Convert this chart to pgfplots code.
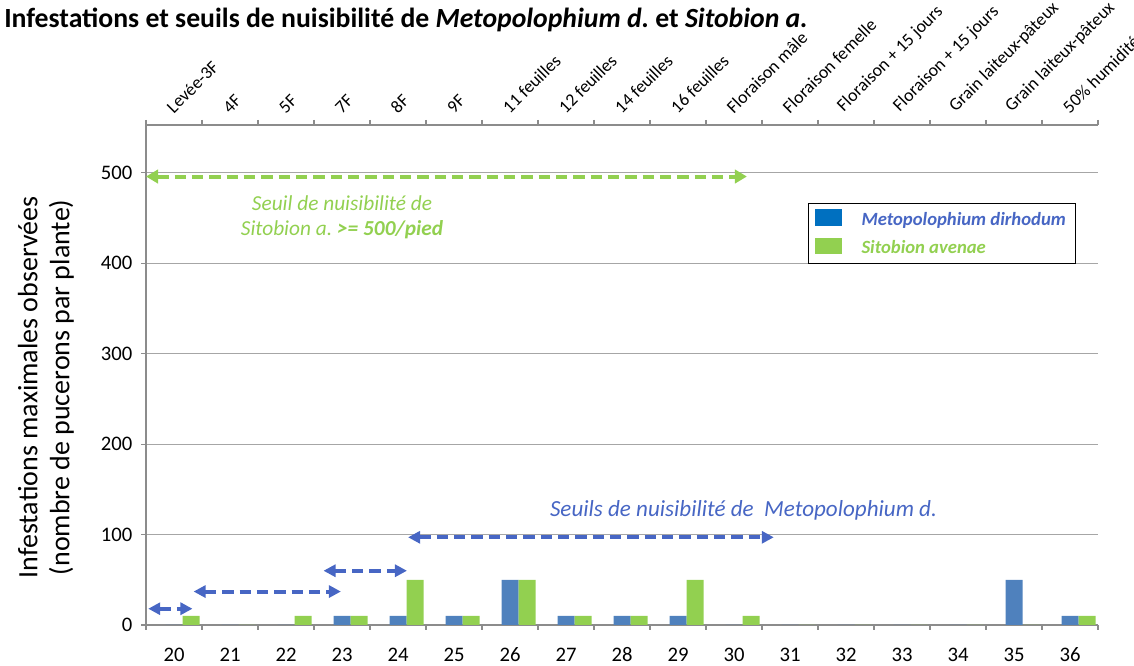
\documentclass[border=0pt]{standalone}
\usepackage{pgfplots}
\pgfplotsset{compat=1.18}
\usepackage{fontspec}
\setmainfont{Carlito}
\usetikzlibrary{arrows.meta}

\definecolor{barblue}{HTML}{4F81BD}
\definecolor{bargreen}{HTML}{92D050}
\definecolor{legblue}{HTML}{0070C0}
\definecolor{arrblue}{HTML}{4766C4}
\definecolor{axgray}{HTML}{8C8C8C}
\definecolor{gridgray}{HTML}{A6A6A6}

\begin{document}
\frenchspacing
\begin{tikzpicture}
\path[use as bounding box] (0,0) rectangle (850.5pt,499.5pt);

% titre
\node[anchor=west, inner sep=0pt, font=\fontsize{20.8}{24}\selectfont\bfseries] at (3pt,484.5pt)
  {Infestations et seuils de nuisibilité de \textit{Metopolophium d.} et \textit{Sitobion a.}};

% titre de l'axe y
\node[rotate=90, align=center, font=\fontsize{21}{24}\selectfont] at (34.5pt,209pt)
  {Infestations maximales observées\\(nombre de pucerons par plante)};

% axe du haut : stades
\begin{axis}[
    at={(109.5pt,30.75pt)}, anchor=south west,
    scale only axis, width=714pt, height=375pt,
    xmin=19.5, xmax=36.5, ymin=0, ymax=553,
    axis x line*=top, axis y line=none,
    axis line style={draw=axgray, line width=0.8pt, -},
    xtick={20,...,36},
    xticklabels={Levée-3F,4F,5F,7F,8F,9F,11 feuilles,12 feuilles,14 feuilles,16 feuilles,Floraison mâle,Floraison femelle,Floraison + 15 jours,Floraison + 15 jours,Grain laiteux-pâteux,Grain laiteux-pâteux,50\% humidité},
    major x tick style={draw=none},
    minor xtick={19.5,20.5,...,36.5},
    minor x tick style={draw=axgray, line width=0.8pt},
    tick align=outside, minor tick length=3.75pt,
    xticklabel shift=3.5pt,
    xticklabel style={rotate=45, anchor=south west, inner sep=0pt, font=\fontsize{13.4}{15}\selectfont},
]
\end{axis}

\begin{axis}[
    at={(109.5pt,30.75pt)}, anchor=south west,
    scale only axis, width=714pt, height=375pt,
    xmin=19.5, xmax=36.5, ymin=0, ymax=553,
    axis x line*=bottom, axis y line*=left,
    axis line style={draw=axgray, line width=0.8pt, -},
    ybar, bar width=12.75pt,
    xtick={20,...,36},
    major x tick style={draw=none},
    minor xtick={19.5,20.5,...,36.5},
    minor x tick style={draw=axgray, line width=0.8pt},
    ytick={0,100,...,500},
    major y tick style={draw=axgray, line width=0.8pt},
    tick align=outside, major tick length=3.75pt, minor tick length=3.75pt,
    ymajorgrids, grid style={draw=gridgray, line width=0.8pt},
    /pgf/number format/assume math mode=true,
    ticklabel style={font=\fontsize{15.5}{18}\selectfont},
    xticklabel style={anchor=base},
    xticklabel shift=24pt,
    yticklabel shift=3pt,
    legend style={at={(rel axis cs:0.695,0.844)}, anchor=north west,
        draw=black, line width=0.8pt, fill=white,
        font=\fontsize{14}{16}\selectfont\bfseries\itshape,
        inner xsep=5pt, inner ysep=4pt, row sep=6pt,
        /tikz/every odd column/.append style={column sep=13pt}},
    legend cell align=left,
]

% Metopolophium dirhodum
\addplot[fill=barblue, draw=none, bar shift=0pt,
    legend image code/.code={\fill[legblue] (0pt,-4.5pt) rectangle (20pt,8pt);}]
    coordinates {
    (20,0) (21,0) (22,0) (23,10) (24,10) (25,10) (26,50) (27,10) (28,10)
    (29,10) (30,0) (31,0) (32,0) (33,0) (34,0) (35,50) (36,10)
};
\addlegendentry{\textcolor{arrblue}{Metopolophium dirhodum}\hspace{6pt}}

% Sitobion avenae
\addplot[fill=bargreen, draw=none, bar shift=12.75pt,
    legend image code/.code={\fill[bargreen] (0pt,-4.5pt) rectangle (20pt,8pt);}]
    coordinates {
    (20,10) (21,0) (22,10) (23,10) (24,50) (25,10) (26,50) (27,10) (28,10)
    (29,50) (30,10) (31,0) (32,0) (33,0) (34,0) (35,0) (36,10)
};
\addlegendentry{\textcolor{bargreen}{Sitobion avenae}}

% seuils Metopolophium
\draw[arrblue, line width=3pt, dash pattern=on 8.5pt off 4.5pt,
      {Triangle[length=9pt,width=9pt]}-{Triangle[length=9pt,width=9pt]}]
    (axis cs:19.54,18) -- (axis cs:20.33,18);
\draw[arrblue, line width=3pt, dash pattern=on 8.5pt off 4.5pt,
      {Triangle[length=9pt,width=9pt]}-{Triangle[length=9pt,width=9pt]}]
    (axis cs:20.35,37) -- (axis cs:22.98,37);
\draw[arrblue, line width=3pt, dash pattern=on 8.5pt off 4.5pt,
      {Triangle[length=9pt,width=9pt]}-{Triangle[length=9pt,width=9pt]}]
    (axis cs:22.67,60) -- (axis cs:24.16,60);
\draw[arrblue, line width=3pt, dash pattern=on 8.5pt off 4.5pt,
      {Triangle[length=9pt,width=9pt]}-{Triangle[length=9pt,width=9pt]}]
    (axis cs:24.18,97) -- (axis cs:30.71,97);
\node[arrblue, font=\fontsize{17.3}{20}\selectfont\itshape] at (axis cs:30.17,127)
    {Seuils de nuisibilité de \ Metopolophium d.};

% seuil Sitobion
\draw[bargreen, line width=3pt, dash pattern=on 8.5pt off 4.5pt,
      {Triangle[length=9pt,width=10pt]}-{Triangle[length=9pt,width=10pt]}]
    (axis cs:19.5,496) -- (axis cs:30.23,496);
\node[bargreen, align=center, font=\fontsize{16}{19}\selectfont\itshape] at (axis cs:23.0,451)
    {Seuil de nuisibilité de\\Sitobion a. \textbf{>= 500/pied}};

\end{axis}
\end{tikzpicture}
\end{document}
